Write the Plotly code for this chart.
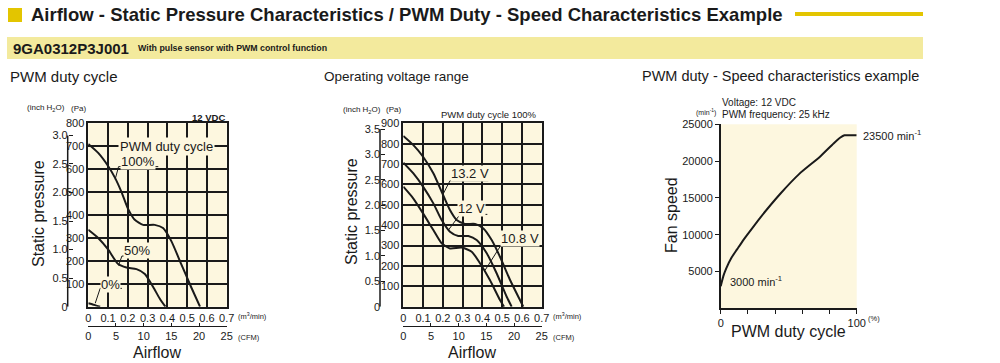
import plotly.graph_objects as go

W, H = 1000, 363
def px(x): return x / W
def py(y): return 1 - y / H

# ---------------- data ----------------
# Chart 1: PWM duty cycle (12 VDC) - airflow (m3/min) vs static pressure (Pa)
duty100_flow = [0, 0.05, 0.10, 0.134, 0.168, 0.20, 0.235, 0.277, 0.336, 0.378, 0.42, 0.47, 0.52, 0.565]
duty100_pa   = [710, 671, 614, 564, 500, 429, 379, 357, 357, 343, 286, 186, 86, 0]
duty50_flow  = [0, 0.05, 0.10, 0.151, 0.193, 0.244, 0.286, 0.328, 0.361, 0.39]
duty50_pa    = [336, 300, 250, 186, 171, 164, 143, 86, 36, 0]
duty0_flow   = [0, 0.03, 0.06]
duty0_pa     = [15, 8, 0]

# Chart 2: operating voltage range (PWM 100%)
v132_flow = [0, 0.05, 0.10, 0.152, 0.194, 0.236, 0.27, 0.312, 0.363, 0.405, 0.447, 0.489, 0.54, 0.59, 0.607]
v132_pa   = [838, 794, 736, 655, 564, 474, 425, 406, 406, 384, 327, 245, 131, 33, 0]
v12_flow  = [0, 0.05, 0.10, 0.152, 0.194, 0.236, 0.278, 0.329, 0.371, 0.422, 0.472, 0.523, 0.548]
v12_pa    = [707, 655, 589, 507, 425, 368, 347, 347, 327, 262, 164, 49, 0]
v108_flow = [0, 0.05, 0.10, 0.152, 0.194, 0.236, 0.295, 0.346, 0.388, 0.438, 0.489, 0.51]
v108_pa   = [589, 532, 458, 376, 311, 286, 290, 270, 213, 131, 33, 0]

# Chart 3: PWM duty (%) vs fan speed (min-1)
duty_pct  = [0, 2, 4, 8, 12, 16, 20, 29, 44, 58, 73, 83, 88, 91, 100]
speed_rpm = [3000, 4400, 5400, 6900, 8000, 9100, 10100, 12300, 15600, 18300, 20600, 22400, 23200, 23500, 23500]

# ticks
flow_ticks = [0, 0.1, 0.2, 0.3, 0.4, 0.5, 0.6, 0.7]
flow_labels = ["0", "0.1", "0.2", "0.3", "0.4", "0.5", "0.6", "0.7"]
cfm_ticks = [0, 5, 10, 15, 20, 25]
pa1_ticks = [100, 200, 300, 400, 500, 600, 700, 800]
pa2_ticks = [100, 200, 300, 400, 500, 600, 700, 800, 900]
inch1_ticks = [0, 0.5, 1.0, 1.5, 2.0, 2.5, 3.0]
inch1_labels = ["0", "0.5", "1.0", "1.5", "2.0", "2.5", "3.0"]
inch2_ticks = [0, 0.5, 1.0, 1.5, 2.0, 2.5, 3.0, 3.5]
inch2_labels = ["0", "0.5", "1.0", "1.5", "2.0", "2.5", "3.0", "3.5"]
speed_ticks = [5000, 10000, 15000, 20000, 25000]
speed_labels = ["5000", "10000", "15000", "20000", "25000"]
duty_ticks = [0, 20, 40, 60, 80, 100]
duty_labels = ["0", "", "", "", "", "100"]

PA_PER_INCH = 249.089

# curve labels: text, text pos, underline y, underline x-range, pointer end
labels1 = [
    ("100%", 0.253, 632, 611, 0.153, 0.354, 0.136, 556),
    ("50%", 0.245, 243, 221, 0.17, 0.312, 0.153, 180),
    ("0%", 0.111, 99, 80, 0.06, 0.17, 0.035, 15),
]
labels2 = [
    ("13.2 V", 0.337, 655, 618, 0.236, 0.43, 0.20, 550),
    ("12 V", 0.346, 483, 453, 0.287, 0.425, 0.228, 376),
    ("10.8 V", 0.59, 336, 308, 0.498, 0.683, 0.413, 178),
]

# ---------------- styling ----------------
INK = "#1a1a1a"
CREAM = "#fdf7df"
BAND = "#f3ea9d"
GOLD = "#e3c500"
FONT = "Liberation Sans, Arial, sans-serif"

fig = go.Figure()

def curve(xs, ys, xa, ya, smooth=0.6):
    fig.add_trace(go.Scatter(x=xs, y=ys, xaxis=xa, yaxis=ya, mode="lines",
                             line=dict(color=INK, width=2, shape="spline", smoothing=smooth),
                             hoverinfo="skip", showlegend=False))

def leader(lab, xa, ya):
    t, tx, ty, uy, ux0, ux1, ex, ey = lab
    fig.add_trace(go.Scatter(x=[ux1, ux0, ex], y=[uy, uy, ey], xaxis=xa, yaxis=ya, mode="lines",
                             line=dict(color=INK, width=1), hoverinfo="skip", showlegend=False))

curve(duty100_flow, duty100_pa, "x", "y")
curve(duty50_flow, duty50_pa, "x", "y")
curve(duty0_flow, duty0_pa, "x", "y")
for lab in labels1:
    leader(lab, "x", "y")

curve(v132_flow, v132_pa, "x3", "y3")
curve(v12_flow, v12_pa, "x3", "y3")
curve(v108_flow, v108_pa, "x3", "y3")
for lab in labels2:
    leader(lab, "x3", "y3")

curve(duty_pct, speed_rpm, "x5", "y5", smooth=0.5)

# dummy traces for secondary axes
for xa, ya in [("x2", "y"), ("x", "y2"), ("x4", "y3"), ("x3", "y4")]:
    fig.add_trace(go.Scatter(x=[None], y=[None], xaxis=xa, yaxis=ya, mode="lines",
                             hoverinfo="skip", showlegend=False))

tickfont = dict(family=FONT, size=11, color=INK)
grid_ax = dict(showgrid=True, gridcolor=INK, gridwidth=1.6, showline=True, linecolor=INK,
               linewidth=1.6, mirror=True, zeroline=False, ticks="", tickfont=tickfont,
               fixedrange=True)
cfm_ax = dict(anchor="free", position=py(326), range=[0, 25], tickvals=cfm_ticks,
              ticks="inside", ticklen=3, tickcolor=INK, tickwidth=1, showline=True,
              linecolor=INK, linewidth=1, showgrid=False, zeroline=False, side="bottom",
              tickfont=tickfont, fixedrange=True)
inch_ax = dict(anchor="free", ticks="inside", ticklen=4, tickcolor=INK, tickwidth=1,
               showline=False, showgrid=False, zeroline=False, side="left",
               tickfont=tickfont, fixedrange=True)

c1x = [px(88.3), px(226.7)]
c2x = [px(403.3), px(541.7)]
cy = [py(306.7), py(123.3)]

fig.update_layout(
    width=W, height=H, margin=dict(l=0, r=0, t=0, b=0, autoexpand=False),
    paper_bgcolor="white", plot_bgcolor=CREAM, showlegend=False,
    font=dict(family=FONT, color=INK),
    xaxis=dict(**grid_ax, domain=c1x, range=[0, 0.7], anchor="y", tickvals=flow_ticks, ticktext=flow_labels),
    yaxis=dict(**grid_ax, domain=cy, range=[0, 800], anchor="x", tickvals=pa1_ticks),
    xaxis2=dict(**cfm_ax, overlaying="x"),
    yaxis2=dict(**inch_ax, overlaying="y", position=px(67.7), range=[0, 800 / PA_PER_INCH],
                tickvals=inch1_ticks, ticktext=inch1_labels),
    xaxis3=dict(**grid_ax, domain=c2x, range=[0, 0.7], anchor="y3", tickvals=flow_ticks, ticktext=flow_labels),
    yaxis3=dict(**grid_ax, domain=cy, range=[0, 900], anchor="x3", tickvals=pa2_ticks),
    xaxis4=dict(**cfm_ax, overlaying="x3"),
    yaxis4=dict(**inch_ax, overlaying="y3", position=px(380), range=[0, 900 / PA_PER_INCH],
                tickvals=inch2_ticks, ticktext=inch2_labels),
    xaxis5=dict(domain=[px(720.7), px(856.7)], range=[0, 100], anchor="y5", showline=True,
                linecolor=INK, linewidth=1.5, ticks="outside", ticklen=4, tickcolor=INK,
                tickvals=duty_ticks, ticktext=duty_labels, showgrid=False, zeroline=False,
                tickfont=tickfont, fixedrange=True),
    yaxis5=dict(domain=[py(308.3), py(124.3)], range=[0, 25000], anchor="x5", showline=True,
                linecolor=INK, linewidth=1.5, ticks="outside", ticklen=4, tickcolor=INK,
                tickvals=speed_ticks, ticktext=speed_labels, showgrid=False, zeroline=False,
                tickfont=tickfont, fixedrange=True),
)

shapes = [
    # header
    dict(type="rect", xref="paper", yref="paper", x0=px(8), x1=px(22), y0=py(22), y1=py(8),
         fillcolor=GOLD, line=dict(width=0)),
    dict(type="line", xref="paper", yref="paper", x0=px(795), x1=px(923), y0=py(14), y1=py(14),
         line=dict(color=GOLD, width=4)),
    dict(type="rect", xref="paper", yref="paper", x0=px(7), x1=px(923), y0=py(59), y1=py(37),
         fillcolor=BAND, line=dict(width=0), layer="below"),
    # inch axis lines
    dict(type="line", xref="paper", yref="y2", x0=px(67.7), x1=px(67.7), y0=0, y1=3.0,
         line=dict(color=INK, width=1.5)),
    dict(type="line", xref="paper", yref="y4", x0=px(380), x1=px(380), y0=0, y1=3.5,
         line=dict(color=INK, width=1.5)),
]
fig.update_layout(shapes=shapes)

ann = []
def A(text, x, y, size=11, xanchor="center", yanchor="middle", bold=False, angle=0, **kw):
    t = f"<b>{text}</b>" if bold else text
    d = dict(text=t, x=x, y=y, xref=kw.pop("xref", "paper"), yref=kw.pop("yref", "paper"),
             showarrow=False, xanchor=xanchor, yanchor=yanchor, textangle=angle,
             font=dict(family=FONT, size=size, color=INK))
    d.update(kw)
    ann.append(d)

# header texts
A("Airflow - Static Pressure Characteristics / PWM Duty - Speed Characteristics Example",
  px(29), py(15), size=18.5, xanchor="left", bold=True)
A("9GA0312P3J001", px(11), py(48), size=15, xanchor="left", bold=True)
A("With pulse sensor with PWM control function", px(136), py(48.5), size=8.8, xanchor="left", bold=True)

# chart titles
A("PWM duty cycle", px(8), py(76), size=15, xanchor="left")
A("Operating voltage range", px(322), py(76), size=13.5, xanchor="left")
A("PWM duty - Speed characteristics example", px(640), py(76), size=14.5, xanchor="left")

# chart 1 extras
A("(inch H<sub>2</sub>O)", px(25), py(108), size=8, xanchor="left")
A("(Pa)", px(88), py(108), size=8, xanchor="right")
A("12 VDC", px(227), py(118), size=9.5, xanchor="right", bold=True)
A("Static pressure", px(38), py(214), size=16, angle=-90)
A("Airflow", px(157), py(352), size=16)
A("(m<sup>3</sup>/min)", px(236), py(316), size=7.5, xanchor="left")
A("(CFM)", px(236), py(337), size=7.5, xanchor="left")
A("PWM duty cycle", 0.395, 700, size=13, xref="x", yref="y", bgcolor=CREAM, borderpad=1)
for lab in labels1:
    A(lab[0], lab[1], lab[2], size=13, xref="x", yref="y", bgcolor=CREAM, borderpad=0)

# chart 2 extras
A("(inch H<sub>2</sub>O)", px(341), py(110), size=8, xanchor="left")
A("(Pa)", px(403), py(110), size=8, xanchor="right")
A("PWM duty cycle 100%", px(539), py(114), size=9.5, xanchor="right")
A("Static pressure", px(351), py(212), size=16, angle=-90)
A("Airflow", px(472), py(352), size=16)
A("(m<sup>3</sup>/min)", px(551), py(316), size=7.5, xanchor="left")
A("(CFM)", px(551), py(337), size=7.5, xanchor="left")
for lab in labels2:
    A(lab[0], lab[1], lab[2], size=13, xref="x3", yref="y3", bgcolor=CREAM, borderpad=0)

# chart 3 extras
A("Voltage: 12 VDC", px(720), py(102.5), size=10, xanchor="left")
A("PWM frequency: 25 kHz", px(720), py(114.5), size=10, xanchor="left")
A("(min<sup>-1</sup>)", px(718), py(113), size=7, xanchor="right")
A("Fan speed", px(671), py(215), size=16, angle=-90)
A("PWM duty cycle", px(788), py(331), size=16)
A("(%)", px(866), py(318), size=7.5, xanchor="left")
A("23500 min<sup>-1</sup>", 100, 23500, size=11, xref="x5", yref="y5", xanchor="left", xshift=4)
A("3000 min<sup>-1</sup>", px(728), py(281), size=11, xanchor="left")

fig.update_layout(annotations=ann)
fig.write_html("out.html", config={"responsive": False, "displayModeBar": False},
               post_script="document.body.style.margin='0';document.body.style.overflow='hidden';")
